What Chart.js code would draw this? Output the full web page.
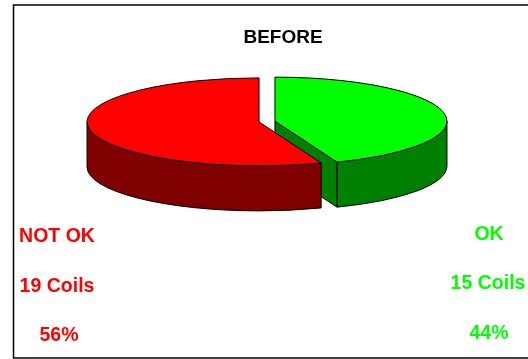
<!DOCTYPE html>
<html>
<head>
<meta charset="utf-8">
<style>
  html, body { margin: 0; padding: 0; background: #fff; }
  canvas { display: block; }
</style>
<script src="https://cdn.jsdelivr.net/npm/chart.js@4"></script>
</head>
<body>
<canvas id="pie" width="528" height="359"></canvas>
<script>
const categories = ['OK', 'NOT OK'];
const coils = [15, 19];
const percents = [44, 56];
const topColours = ['#00ff00', '#ff0000'];
const wallColours = ['#008000', '#800000'];

const chartTitle = 'BEFORE';
const squash = 44 / 172; // tilt of the pie
const depth = 45;        // height of the wall
const explode = 8.1;     // slice pull-out

// centre of a slice after it is pulled out
function centre(arc) {
  const mid = (arc.startAngle + arc.endAngle) / 2;
  return {
    x: arc.x + Math.cos(mid) * explode,
    y: arc.y + Math.sin(mid) * explode * squash
  };
}

function drawWalls(ctx, arc, i) {
  const c = centre(arc);
  const r = arc.outerRadius;
  const ry = r * squash;
  ctx.fillStyle = wallColours[i];
  ctx.strokeStyle = '#000';
  ctx.lineWidth = 1;

  // cut face, only seen when the end edge points at the viewer
  if (Math.sin(arc.endAngle) > 0 && Math.cos(arc.endAngle) > 0) {
    const ex = c.x + Math.cos(arc.endAngle) * r;
    const ey = c.y + Math.sin(arc.endAngle) * ry;
    ctx.beginPath();
    ctx.moveTo(c.x, c.y);
    ctx.lineTo(ex, ey);
    ctx.lineTo(ex, ey + depth);
    ctx.lineTo(c.x, c.y + depth);
    ctx.closePath();
    ctx.fill();
    ctx.stroke();
  }

  // outer wall, front half of the ellipse only
  const from = Math.max(arc.startAngle, 0);
  const to = Math.min(arc.endAngle, Math.PI);
  if (to > from) {
    ctx.beginPath();
    ctx.ellipse(c.x, c.y, r, ry, 0, from, to);
    ctx.ellipse(c.x, c.y + depth, r, ry, 0, to, from, true);
    ctx.closePath();
    ctx.fill();
    ctx.stroke();
  }
}

const pie3d = {
  id: 'pie3d',
  beforeDraw(chart) {
    const ctx = chart.ctx;
    ctx.save();
    ctx.strokeStyle = '#000';
    ctx.lineWidth = 1.5;
    ctx.strokeRect(13.5, 5, 520, 353);
    ctx.restore();
  },
  beforeDatasetsDraw(chart) {
    const ctx = chart.ctx;
    const arcs = chart.getDatasetMeta(0).data;

    arcs.forEach((arc, i) => drawWalls(ctx, arc, i));

    arcs.forEach(arc => {
      const c = centre(arc);
      ctx.save();
      ctx.translate(c.x, c.y);
      ctx.scale(1, squash);
      ctx.translate(-arc.x, -arc.y);
      arc.draw(ctx);
      ctx.restore();

      // outline after the transform so it keeps its width
      ctx.beginPath();
      ctx.moveTo(c.x, c.y);
      ctx.ellipse(c.x, c.y, arc.outerRadius, arc.outerRadius * squash, 0, arc.startAngle, arc.endAngle);
      ctx.closePath();
      ctx.strokeStyle = '#000';
      ctx.lineWidth = 1;
      ctx.stroke();
    });
    return false;
  },
  afterDraw(chart) {
    const ctx = chart.ctx;
    ctx.save();
    ctx.textAlign = 'center';
    ctx.textBaseline = 'middle';
    ctx.font = 'bold 19px "Liberation Sans"';
    ctx.fillStyle = '#000';
    ctx.fillText(chartTitle, 283, 38);

    ctx.font = 'bold 19.5px "Liberation Sans"';
    ctx.fillStyle = topColours[1];
    ctx.fillText(categories[1], 57, 237);
    ctx.fillText(coils[1] + ' Coils', 57, 287);
    ctx.fillText(percents[1] + '%', 59, 336);

    ctx.fillStyle = topColours[0];
    ctx.fillText(categories[0], 489, 235);
    ctx.fillText(coils[0] + ' Coils', 488, 284);
    ctx.fillText(percents[0] + '%', 489, 334);
    ctx.restore();
  }
};

new Chart(document.getElementById('pie'), {
  type: 'pie',
  data: {
    labels: categories,
    datasets: [{
      data: coils,
      backgroundColor: topColours,
      borderWidth: 0
    }]
  },
  options: {
    responsive: false,
    animation: false,
    radius: 172,
    layout: { padding: { left: 6, right: 0, top: 0, bottom: 116 } },
    plugins: {
      legend: { display: false },
      tooltip: { enabled: false }
    }
  },
  plugins: [pie3d]
});
</script>
</body>
</html>
